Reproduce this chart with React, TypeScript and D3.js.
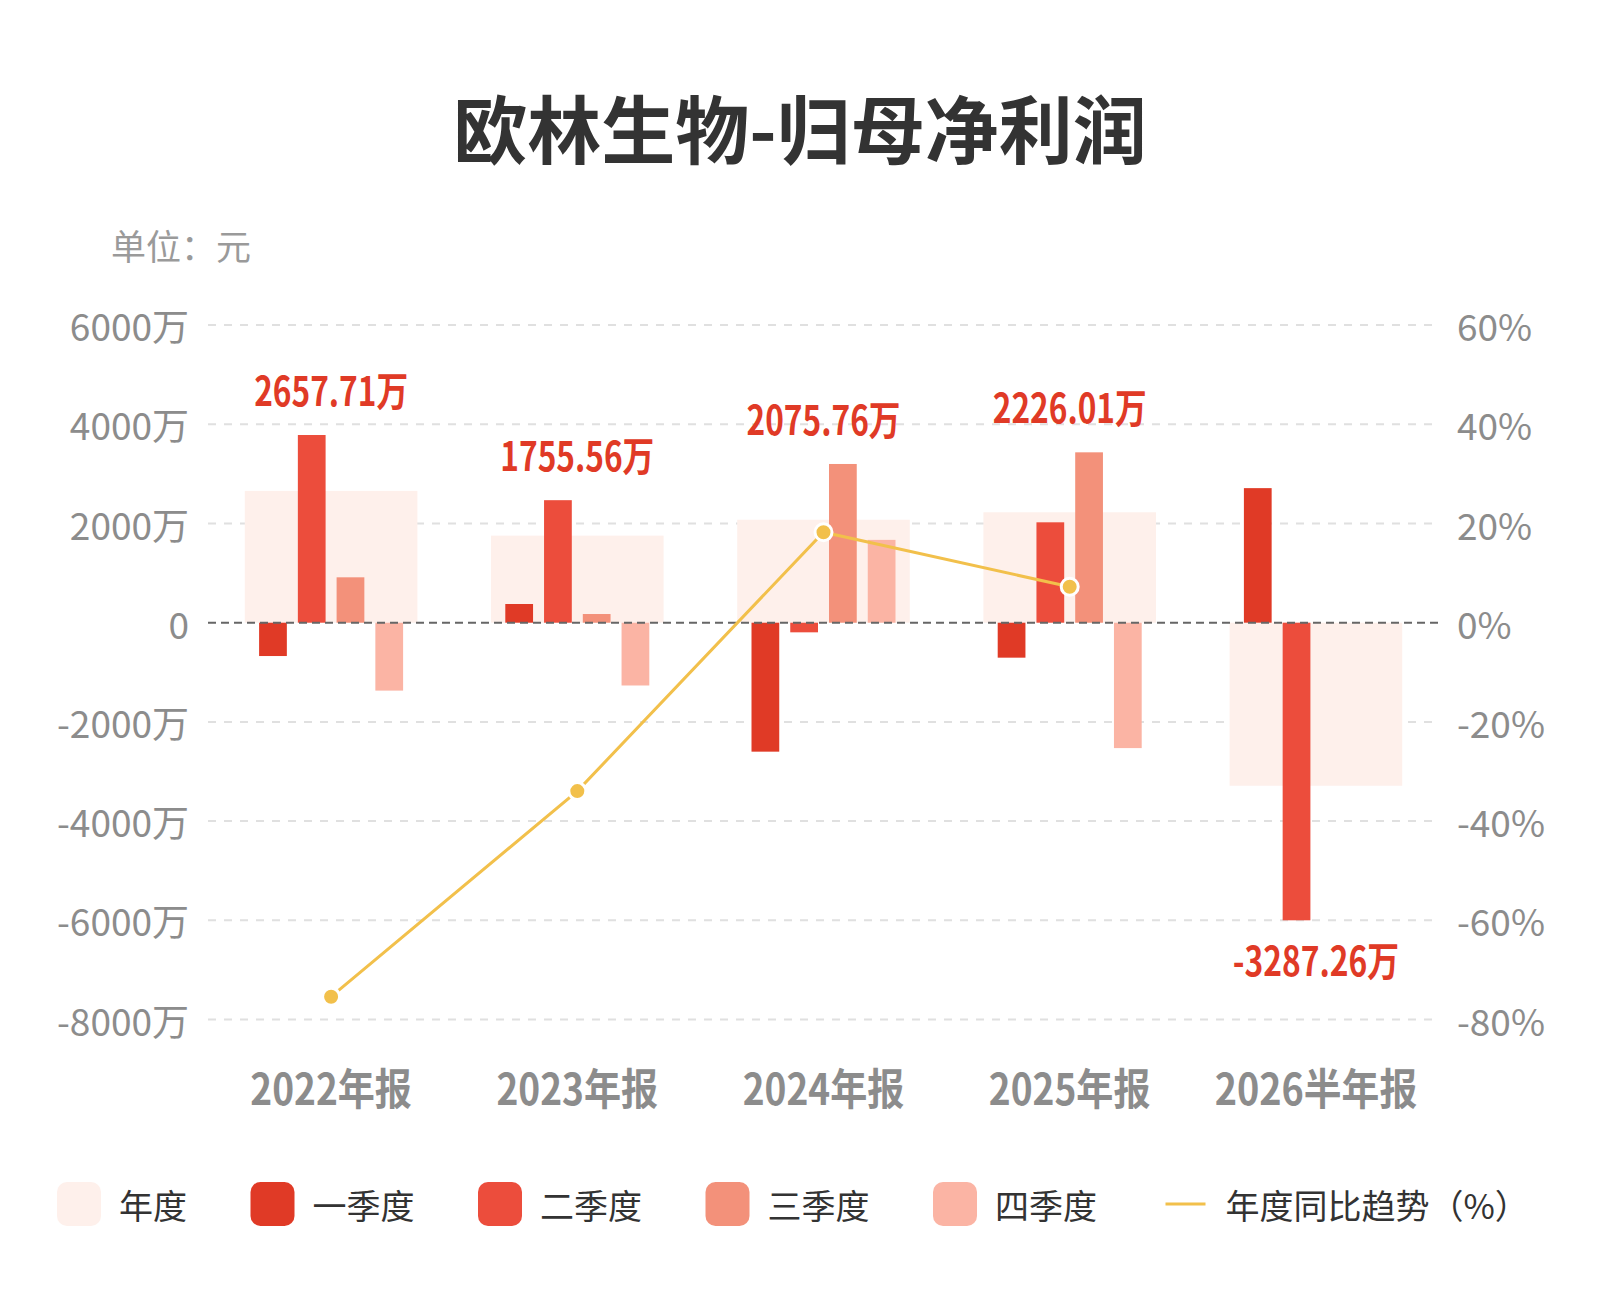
import { scaleBand, scaleLinear, line } from "d3";

const categories = ["2022年报", "2023年报", "2024年报", "2025年报", "2026半年报"];
// 单位：万元
const annual = [2657.71, 1755.56, 2075.76, 2226.01, -3287.26];
const q1 = [-672, 377, -2600, -705, 2713];
const q2 = [3784, 2470, -194, 2024, -6000];
const q3: (number | null)[] = [915, 175, 3200, 3435, null];
const q4: (number | null)[] = [-1369, -1266, 1670, -2528, null];
const yoy: (number | null)[] = [-75.4, -33.95, 18.24, 7.24, null];

const leftTicks = [6000, 4000, 2000, 0, -2000, -4000, -6000, -8000];
const rightTicks = [60, 40, 20, 0, -20, -40, -60, -80];

const quarterNames = ["一季度", "二季度", "三季度", "四季度"];
const quarterColors = ["#E03A26", "#EC4D3C", "#F3917A", "#FBB4A4"];
const yearColor = "#FEF0EB";
const lineColor = "#F2C04B";
const labelRed = "#E03A26";

const CJK = "'Noto Sans CJK SC', sans-serif";

function fmtLeft(v: number) {
  return v === 0 ? "0" : `${v}万`;
}

// squeezed to the width of the condensed face used in the original
function CondText({
  x,
  y,
  text,
  size,
  digitW,
  fill,
  weight = 400,
}: {
  x: number;
  y: number;
  text: string;
  size: number;
  digitW: number;
  fill: string;
  weight?: number;
}) {
  const m = text.match(/^[-0-9.]+/);
  const num = m ? m[0] : "";
  const rest = text.slice(num.length);
  const numW = [...num].reduce((s, ch) => s + (ch === "." ? digitW * 0.44 : ch === "-" ? digitW * 0.7 : digitW), 0);
  const total = numW + rest.length * size * 0.95;
  return (
    <text
      x={x - total / 2}
      y={y}
      textLength={total}
      lengthAdjust="spacingAndGlyphs"
      fontFamily={CJK}
      fontSize={size}
      fontWeight={weight}
      fill={fill}
    >
      {text}
    </text>
  );
}

export default function App() {
  const width = 1600;
  const height = 1300;
  const plotLeft = 208;
  const plotRight = 1439;

  const x = scaleBand<string>().domain(categories).range([plotLeft, plotRight]);
  const sub = scaleBand<string>()
    .domain(quarterNames)
    .range([-72, 72])
    .paddingInner(0.284)
    .paddingOuter(0);
  const y = scaleLinear().domain([-8000, 6000]).range([1019.5, 325.1]);
  const yR = scaleLinear().domain([-80, 60]).range([1019.5, 325.1]);
  const yearWidth = 172.6;
  const quarters = [q1, q2, q3, q4];

  const pts = categories
    .map((c, i) => ({ c, v: yoy[i] }))
    .filter((d) => d.v !== null) as { c: string; v: number }[];
  const cx = (c: string) => (x(c) ?? 0) + x.bandwidth() / 2;
  const path = line<{ c: string; v: number }>()
    .x((d) => cx(d.c))
    .y((d) => yR(d.v))(pts);

  const legendItems = [
    { label: "年度", color: yearColor },
    ...quarterNames.map((n, i) => ({ label: n, color: quarterColors[i] })),
  ];
  const legendFont = 34;
  let lx = 57;
  const legendPos = legendItems.map((d) => {
    const p = lx;
    lx += 44 + 18 + d.label.length * legendFont + 63.5;
    return p;
  });
  const lineLegendX = lx + 5;

  return (
    <>
      <style>{"body{margin:0;background:#fff}"}</style>
      <svg width={width} height={height} viewBox={`0 0 ${width} ${height}`} style={{ display: "block" }}>
        <rect width={width} height={height} fill="#fff" />
        <text x={800} y={158} textAnchor="middle" fontFamily={CJK} fontWeight={700} fontSize={74} fill="#333">
          欧林生物-归母净利润
        </text>
        <text x={111} y={260} fontFamily={CJK} fontSize={35} fill="#9a9a9a">
          单位：元
        </text>

        {leftTicks.map((t) => (
          <g key={t}>
            {t !== 0 && (
              <line x1={plotLeft} x2={plotRight} y1={y(t)} y2={y(t)} stroke="#e0e0e0" strokeWidth={2} strokeDasharray="8 8" />
            )}
            <text x={189} y={y(t)} textAnchor="end" dominantBaseline="central" fontFamily={CJK} fontSize={37} fill="#8c8c8c">
              {fmtLeft(t)}
            </text>
          </g>
        ))}
        {rightTicks.map((t) => (
          <text key={t} x={1457} y={yR(t)} dominantBaseline="central" fontFamily={CJK} fontSize={37} fill="#8c8c8c">
            {`${t}%`}
          </text>
        ))}

        {categories.map((c, i) => {
          const center = cx(c);
          const v = annual[i];
          return (
            <rect
              key={c}
              x={center - yearWidth / 2}
              y={Math.min(y(v), y(0))}
              width={yearWidth}
              height={Math.abs(y(v) - y(0))}
              fill={yearColor}
            />
          );
        })}

        {categories.map((c, i) => {
          const center = cx(c);
          return (
            <g key={c}>
              {quarters.map((q, k) => {
                const v = q[i];
                if (v === null || v === undefined) return null;
                return (
                  <rect
                    key={k}
                    x={center + (sub(quarterNames[k]) ?? 0)}
                    y={Math.min(y(v), y(0))}
                    width={sub.bandwidth()}
                    height={Math.abs(y(v) - y(0))}
                    fill={quarterColors[k]}
                  />
                );
              })}
            </g>
          );
        })}

        <line x1={plotLeft} x2={plotRight} y1={y(0)} y2={y(0)} stroke="#666" strokeWidth={2} strokeDasharray="8 5" />

        <path d={path ?? ""} fill="none" stroke={lineColor} strokeWidth={3} />
        {pts.map((d) => (
          <circle key={d.c} cx={cx(d.c)} cy={yR(d.v)} r={8.5} fill={lineColor} stroke="#fff" strokeWidth={3} />
        ))}

        {categories.map((c, i) => {
          const v = annual[i];
          const vals = [v, ...quarters.map((q) => q[i])].filter((d) => d !== null) as number[];
          const top = y(Math.max(...vals));
          const bottom = y(Math.min(...vals));
          const ty = v >= 0 ? top - 29 : bottom + 56;
          return (
            <CondText key={c} x={cx(c)} y={ty} text={`${v.toFixed(2)}万`} size={40} digitW={18} fill={labelRed} weight={700} />
          );
        })}

        {categories.map((c) => (
          <CondText key={c} x={cx(c)} y={1105} text={c} size={43} digitW={20} fill="#8c8c8c" weight={700} />
        ))}

        {legendItems.map((d, i) => (
          <g key={d.label} transform={`translate(${legendPos[i]},1182)`}>
            <rect width={44} height={44} rx={10} fill={d.color} />
            <text x={62} y={22} dominantBaseline="central" fontFamily={CJK} fontSize={legendFont} fill="#333">
              {d.label}
            </text>
          </g>
        ))}
        <g transform={`translate(${lineLegendX},1204)`}>
          <line x1={0} x2={40} y1={0} y2={0} stroke={lineColor} strokeWidth={3} />
          <text x={60} y={0} dominantBaseline="central" fontFamily={CJK} fontSize={legendFont} fill="#333">
            年度同比趋势（%）
          </text>
        </g>
      </svg>
    </>
  );
}
